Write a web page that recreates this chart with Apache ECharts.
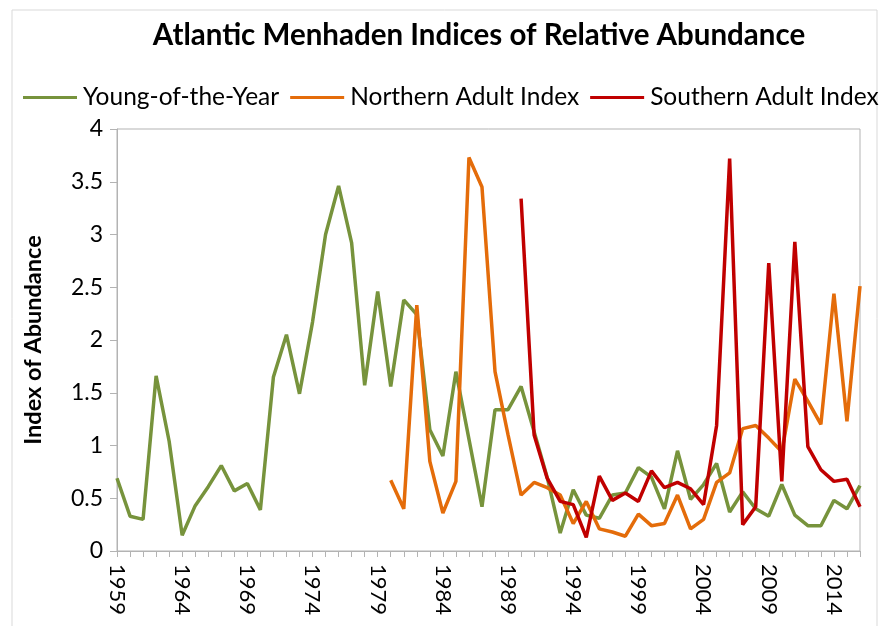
<!DOCTYPE html>
<html><head><meta charset="utf-8">
<script src="https://cdn.jsdelivr.net/npm/echarts@6/dist/echarts.min.js"></script>
<style>html,body{margin:0;padding:0;background:#fff}#c{width:890px;height:626px}</style>
</head><body><div id="c"></div>
<script>
var years = [];
for (var y = 1959; y <= 2016; y++) years.push(String(y));

var youngOfYear = [0.69,0.33,0.30,1.66,1.04,0.15,0.43,0.61,0.81,0.57,0.64,0.39,1.65,2.05,1.49,2.17,3.00,3.46,2.92,1.57,
  2.46,1.56,2.38,2.24,1.15,0.90,1.70,1.06,0.42,1.34,1.34,1.56,1.13,0.70,0.17,0.58,0.34,0.31,0.53,0.55,
  0.79,0.70,0.40,0.95,0.49,0.63,0.83,0.37,0.56,0.40,0.33,0.63,0.34,0.24,0.24,0.48,0.40,0.62];

var northernAdult = [null,null,null,null,null,null,null,null,null,null,null,null,null,null,null,null,null,null,null,null,null,
  0.67,0.40,2.33,0.85,0.36,0.66,3.73,3.45,1.70,1.10,0.53,0.65,0.60,0.53,0.26,0.47,0.21,0.18,0.14,
  0.35,0.24,0.26,0.53,0.21,0.30,0.65,0.74,1.16,1.19,1.07,0.94,1.63,1.42,1.20,2.44,1.23,2.51];

var southernAdult = [null,null,null,null,null,null,null,null,null,null,null,null,null,null,null,null,null,null,null,null,
  null,null,null,null,null,null,null,null,null,null,null,
  3.34,1.10,0.69,0.47,0.44,0.13,0.71,0.48,0.55,0.47,0.76,0.60,0.65,0.59,0.44,1.19,3.72,0.25,0.42,2.73,0.66,2.93,0.99,0.77,0.66,0.68,0.42];

var seriesNames = ['Young-of-the-Year','Northern Adult Index','Southern Adult Index'];
var colors = ['#77933C','#E46C0A','#C00000'];
var font = 'Lato';

var chart = echarts.init(document.getElementById('c'), null, {renderer:'canvas'});
chart.setOption({
  animation:false,
  backgroundColor:'#fff',
  graphic:[{type:'rect',shape:{x:12,y:10,width:865,height:640},style:{fill:'none',stroke:'#d9d9d9',lineWidth:1},silent:true}],
  title:{text:'Atlantic Menhaden Indices of Relative Abundance',left:474,textAlign:'center',top:15,
    textStyle:{fontFamily:font,fontWeight:'bold',fontSize:29.5,color:'#000'}},
  legend:{data:seriesNames,top:80,left:18,itemGap:11,itemWidth:54,itemHeight:3,icon:'rect',
    textStyle:{fontFamily:font,fontSize:24.5,color:'#000',padding:[0,0,0,1]}},
  grid:{left:117,top:129,width:743,height:422,show:true,borderColor:'#b3b3b3',borderWidth:1},
  xAxis:{type:'category',data:years,boundaryGap:false,
    axisLine:{lineStyle:{color:'#b3b3b3'}},
    axisTick:{show:true,interval:0,length:6,lineStyle:{color:'#b3b3b3'}},
    axisLabel:{interval:4,rotate:-90,fontFamily:font,fontSize:22,color:'#000',margin:13},
    splitLine:{show:false}},
  yAxis:{type:'value',min:0,max:4,interval:0.5,name:'Index of Abundance',nameLocation:'middle',nameGap:72,
    nameTextStyle:{fontFamily:font,fontWeight:'bold',fontSize:23.5,color:'#000'},
    axisLine:{show:true,lineStyle:{color:'#b3b3b3'}},
    axisTick:{show:true,length:7,lineStyle:{color:'#b3b3b3'}},
    axisLabel:{fontFamily:font,fontSize:23,color:'#000',margin:14},
    splitLine:{show:false}},
  series:[
    {name:seriesNames[0],type:'line',data:youngOfYear,color:colors[0],showSymbol:false,lineStyle:{width:3.5}},
    {name:seriesNames[1],type:'line',data:northernAdult,color:colors[1],showSymbol:false,lineStyle:{width:3.5}},
    {name:seriesNames[2],type:'line',data:southernAdult,color:colors[2],showSymbol:false,lineStyle:{width:3.5}}
  ]
});
</script></body></html>
